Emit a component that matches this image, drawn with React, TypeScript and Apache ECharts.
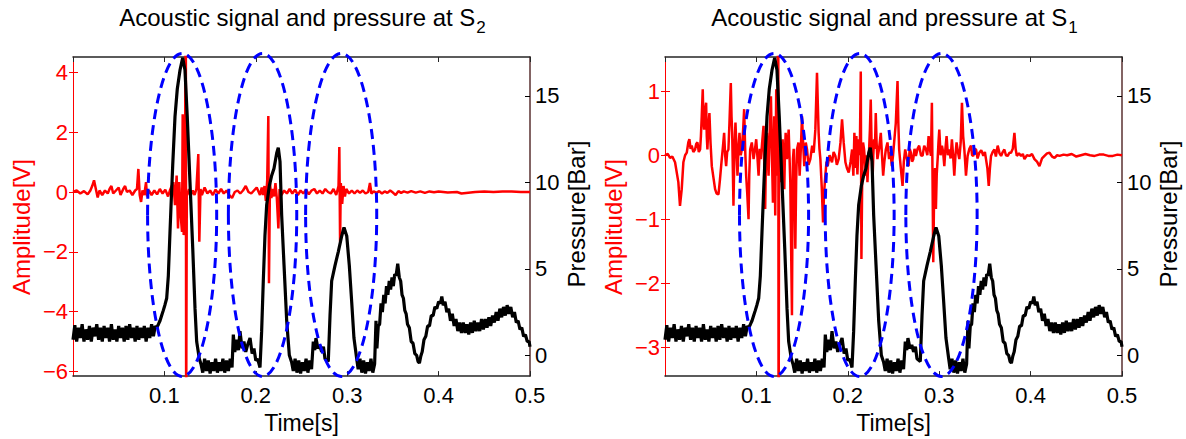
import React, { useEffect, useRef } from 'react';
import * as echarts from 'echarts';

// ---------- data ----------
const timeRange = [0, 0.5];
const timeStep = 0.1;
const pressureRange = [-1.2, 17.25];
const pressureTicks = [0, 5, 10, 15];
const ampRangeS2 = [-6.15, 4.51];
const ampTicksS2 = [-6, -4, -2, 0, 2, 4];
const ampRangeS1 = [-3.45, 1.535];
const ampTicksS1 = [-3, -2, -1, 0, 1];

// pressure [s, bar] (same trace shown in both panels)
const pressure: [number, number][] = [
  [0, 0.9], [0.002, 1.75], [0.004, 0.8], [0.006, 1.6], [0.008, 1.0], [0.01, 1.8], [0.012, 0.8], [0.014, 1.5], [0.016, 0.9], [0.018, 1.7],
  [0.02, 0.8], [0.022, 1.6], [0.024, 1.1], [0.026, 1.8], [0.028, 0.9], [0.03, 1.6], [0.032, 0.8], [0.034, 1.7], [0.036, 1.0], [0.038, 1.6],
  [0.04, 0.8], [0.042, 1.8], [0.044, 0.9], [0.046, 1.5], [0.048, 0.8], [0.05, 1.7], [0.052, 1.0], [0.054, 1.6], [0.056, 0.8], [0.058, 1.7],
  [0.06, 0.9], [0.062, 1.8], [0.064, 1.0], [0.066, 1.6], [0.068, 0.8], [0.07, 1.7], [0.072, 0.9], [0.074, 1.6], [0.076, 1.0], [0.078, 1.7],
  [0.08, 0.8], [0.082, 1.6], [0.084, 1.0], [0.086, 1.8], [0.088, 1.1], [0.09, 1.7],
  [0.0916, 1.6], [0.0935, 1.8], [0.0952, 2.0], [0.097, 2.3], [0.0988, 2.6], [0.1005, 2.9], [0.1025, 3.3], [0.1043, 4.6], [0.1061, 7.1],
  [0.1076, 9.1], [0.1091, 11.0], [0.1116, 13.8], [0.1141, 15.4], [0.1171, 16.5], [0.12, 17.2], [0.1225, 16.5], [0.125, 13.8], [0.128, 10.0],
  [0.131, 6.2], [0.1335, 2.7], [0.1353, 0.8], [0.1382, -0.2],
  [0.14, -0.5], [0.142, -1.0], [0.144, -0.2], [0.146, -0.9], [0.148, -0.3], [0.15, -1.05], [0.152, -0.4], [0.154, -0.9], [0.156, -0.2],
  [0.158, -1.0], [0.16, -0.4], [0.162, -0.9], [0.164, -0.2], [0.166, -1.0], [0.168, -0.3], [0.17, -0.9], [0.172, -0.2], [0.174, -0.7],
  [0.1754, 1.2], [0.177, 0.2], [0.179, 0.9], [0.181, 0.3], [0.1827, 1.4], [0.185, 0.4], [0.187, 0.8], [0.189, 0.2], [0.191, 0.6],
  [0.1937, 1.0], [0.196, 0.1], [0.198, 0.4], [0.2, -0.3], [0.202, -0.2], [0.2046, -0.7],
  [0.2064, 1.4], [0.2082, 4.3], [0.21, 6.9], [0.2119, 8.7], [0.2148, 9.8], [0.2174, 10.4], [0.2199, 10.8], [0.2229, 11.7], [0.2246, 12.0],
  [0.2265, 11.2], [0.2283, 8.1], [0.2309, 5.2], [0.2338, 2.0], [0.2367, 0.0], [0.2392, -0.4],
  [0.241, -0.9], [0.243, -0.2], [0.245, -1.0], [0.247, -0.3], [0.249, -1.05], [0.251, -0.4], [0.253, -0.9], [0.255, -0.2], [0.257, -1.0],
  [0.259, -0.3], [0.261, -0.8],
  [0.2629, 0.8], [0.2645, 0.3], [0.2658, 1.0], [0.268, 0.4], [0.27, 0.6], [0.272, 0.2], [0.274, 0.5], [0.2757, -0.2], [0.2793, -0.35],
  [0.2812, 2.3], [0.283, 4.3], [0.2867, 5.2], [0.2903, 6.0], [0.294, 6.9], [0.2965, 7.4], [0.2995, 6.9], [0.3023, 5.2], [0.3049, 3.1],
  [0.3074, 1.0], [0.3104, -0.2],
  [0.312, -0.8], [0.314, -0.2], [0.316, -1.0], [0.318, -0.3], [0.32, -1.05], [0.322, -0.4], [0.324, -0.9], [0.326, -0.2], [0.328, -1.0], [0.33, -0.5],
  [0.3315, 2.0], [0.3325, 0.4], [0.334, 1.7], [0.3355, 1.8], [0.337, 3.0], [0.3385, 2.5], [0.34, 3.5], [0.3415, 3.0], [0.343, 4.0],
  [0.3445, 3.5], [0.346, 4.3], [0.3475, 3.8], [0.349, 4.5], [0.3505, 4.0], [0.352, 4.7], [0.3535, 4.6], [0.3553, 5.3], [0.357, 4.5],
  [0.3585, 4.3], [0.36, 3.5], [0.3615, 3.3], [0.363, 2.6], [0.3645, 2.4], [0.366, 1.8], [0.368, 1.6], [0.37, 0.8], [0.372, 0.7],
  [0.374, 0.1], [0.376, 0.0], [0.3775, -0.35], [0.379, -0.45], [0.3805, -0.05], [0.382, 0.2], [0.384, 0.9], [0.386, 1.1], [0.388, 1.7],
  [0.39, 1.7], [0.392, 2.3], [0.394, 2.3], [0.396, 2.8], [0.398, 2.7], [0.4, 3.1], [0.402, 3.0], [0.4035, 3.4], [0.405, 2.9], [0.407, 3.1],
  [0.409, 2.5], [0.411, 2.7], [0.413, 2.0], [0.415, 2.4], [0.417, 1.7], [0.419, 2.1], [0.421, 1.4], [0.423, 1.9], [0.425, 1.3],
  [0.427, 1.9], [0.429, 1.3], [0.431, 1.8], [0.433, 1.2], [0.435, 1.9], [0.437, 1.3], [0.439, 2.0], [0.441, 1.4], [0.443, 1.9],
  [0.445, 1.4], [0.447, 2.1], [0.449, 1.5], [0.451, 2.1], [0.453, 1.6], [0.455, 2.2], [0.457, 1.7], [0.459, 2.3], [0.461, 1.9],
  [0.463, 2.5], [0.465, 2.0], [0.467, 2.7], [0.469, 2.2], [0.471, 2.8], [0.473, 2.3], [0.475, 2.9], [0.477, 2.4], [0.479, 2.8],
  [0.481, 2.2], [0.483, 2.5], [0.485, 1.9], [0.487, 2.0], [0.489, 1.5], [0.491, 1.6], [0.493, 1.1], [0.495, 1.2], [0.497, 0.8],
  [0.499, 0.8], [0.5, 0.5],
];

// acoustic signal at S2 [s, V]
const signalS2: [number, number][] = [
  [0, 0], [0.004, 0.05], [0.008, -0.05], [0.012, 0.03], [0.016, -0.08], [0.019, 0.05], [0.021, 0.2], [0.023, 0.39], [0.025, 0.1],
  [0.027, -0.18], [0.029, 0.05], [0.032, -0.1], [0.035, 0.05], [0.038, -0.05], [0.04, 0.1], [0.042, 0.2], [0.044, -0.05], [0.047, 0.05],
  [0.05, 0.15], [0.052, -0.1], [0.055, 0.1], [0.057, 0.2], [0.059, 0], [0.062, 0.05], [0.065, -0.1], [0.068, 0.05], [0.07, 0.1],
  [0.0715, 0.77], [0.073, -0.1], [0.0745, -0.33], [0.076, 0.05], [0.078, -0.1], [0.0799, 0.33], [0.081, -0.15], [0.083, 0.05],
  [0.086, -0.1], [0.089, 0.05], [0.092, -0.08], [0.095, 0.1], [0.098, -0.05], [0.101, 0.08], [0.104, -0.15], [0.106, 0.05], [0.108, 0.2],
  [0.1098, 0.33], [0.1116, -0.44], [0.1134, 0.55], [0.1149, -1.22], [0.1163, 0.33], [0.1178, -0.78], [0.1193, -1.33], [0.12, 2.6],
  [0.1211, -1.44], [0.1225, 0.11], [0.1234, 8], [0.1238, -8], [0.1245, 0], [0.1251, -0.1], [0.127, 0.1], [0.129, -0.1], [0.131, 0.05],
  [0.133, -0.1], [0.135, 0.1], [0.1371, 1.27], [0.1382, -1.66], [0.1395, 0.1], [0.141, -0.1], [0.144, 0.15], [0.147, -0.05], [0.15, 0.05],
  [0.153, -0.1], [0.156, 0.08], [0.159, -0.05], [0.162, 0.1], [0.165, -0.05], [0.168, 0.05], [0.171, -0.1], [0.174, -0.2], [0.177, 0],
  [0.18, 0.05], [0.183, -0.05], [0.186, 0.05], [0.189, 0.2], [0.192, 0], [0.195, -0.05], [0.198, 0.05], [0.201, 0.15],
  [0.2046, -0.1], [0.2065, 0.15], [0.208, -0.1], [0.2095, 0.2], [0.211, -0.3], [0.2125, 0.4], [0.2137, 2.54], [0.2144, -3.05],
  [0.2155, 0.3], [0.217, -0.2], [0.2185, 0.1], [0.22, -0.15], [0.2215, 0.3], [0.223, -0.2], [0.2247, -1.22], [0.226, 0.1], [0.228, -0.1],
  [0.231, 0.05], [0.234, -0.05], [0.237, 0.1], [0.24, -0.05], [0.243, 0.08], [0.246, -0.1], [0.249, 0.05], [0.252, -0.05], [0.255, 0.08],
  [0.258, -0.08], [0.261, 0.05], [0.264, 0.1], [0.267, -0.05], [0.27, 0.05], [0.273, -0.05], [0.276, 0.1], [0.279, 0], [0.282, -0.05],
  [0.285, 0.1], [0.288, -0.1], [0.2905, 0.2], [0.2914, 1.5], [0.2922, -1.66], [0.293, 0.3], [0.2945, -0.4], [0.296, 0.2], [0.2975, -0.15],
  [0.299, 0.1], [0.302, -0.05], [0.305, 0.05], [0.308, -0.05], [0.311, 0.05], [0.314, -0.03], [0.317, 0.05], [0.32, -0.05], [0.323, 0],
  [0.3249, 0.3], [0.3265, -0.05], [0.329, 0.02], [0.332, -0.03], [0.335, 0.03], [0.338, -0.05], [0.341, 0.02], [0.344, -0.03],
  [0.347, 0.05], [0.35, -0.02], [0.353, -0.1], [0.356, 0.03], [0.359, -0.03], [0.362, 0.02], [0.366, -0.02], [0.37, 0.03], [0.375, -0.02],
  [0.38, 0.02], [0.385, -0.03], [0.39, 0.02], [0.395, -0.01], [0.4, 0.02], [0.41, -0.02], [0.42, 0], [0.425, -0.05], [0.43, -0.03],
  [0.44, 0], [0.45, 0.02], [0.46, 0], [0.47, 0.02], [0.48, 0.02], [0.49, 0], [0.5, 0],
];

// acoustic signal at S1 [s, V]
const signalS1: [number, number][] = [
  [0, 0], [0.003, 0.02], [0.0055, -0.04], [0.008, -0.02], [0.011, -0.11], [0.0146, -0.42], [0.0164, -0.79], [0.0183, -0.53],
  [0.0201, -0.11], [0.022, 0.0], [0.0238, 0.04], [0.0255, 0.2], [0.0267, 0.25], [0.028, 0.1], [0.0292, 0.15], [0.031, 0.05],
  [0.0329, 0.09], [0.0342, 0.18], [0.0355, 0.2], [0.037, 0.05], [0.0384, 0.09], [0.0393, 0.3], [0.0402, 0.61], [0.0413, 1.03],
  [0.042, 0.55], [0.0428, 0.4], [0.0438, 0.7], [0.045, 0.82], [0.0457, 0.3], [0.0464, 0.09], [0.0475, 0.45], [0.0486, 0.66],
  [0.0498, 0.2], [0.0512, -0.17], [0.053, -0.35], [0.0548, -0.53], [0.0565, -0.6], [0.0585, -0.61], [0.06, -0.4], [0.0621, -0.06],
  [0.0635, 0.15], [0.0647, 0.35], [0.0658, 0.0], [0.0669, -0.17], [0.068, 0.05], [0.0694, 0.09], [0.0705, 0.5], [0.072, 1.13],
  [0.0728, 0.6], [0.0735, 0.35], [0.0742, -0.2], [0.0749, -0.79], [0.076, 0.1], [0.0771, 0.51], [0.0782, 0.1], [0.0793, -0.32],
  [0.0804, 0.1], [0.0815, 0.35], [0.0828, 0.0], [0.0841, 0.09], [0.0855, 0.4], [0.0866, 0.72], [0.0877, 0.1], [0.0888, -0.32],
  [0.09, -0.6], [0.0914, -1.0], [0.0922, -0.3], [0.0932, 0.09], [0.095, 0.2], [0.0969, -0.06], [0.0985, 0.1], [0.0998, 0.25],
  [0.101, 0.0], [0.1024, -0.32], [0.1036, 0.1], [0.1049, -0.06], [0.1063, 0.2], [0.1078, 0.46], [0.1087, -0.2], [0.1096, -0.84],
  [0.1105, 0.0], [0.1115, 0.35], [0.1124, 0.0], [0.1133, -0.32], [0.1146, 0.4], [0.1159, 0.92], [0.117, 0.0], [0.1181, -0.74],
  [0.1188, 0.0], [0.1195, 0.61], [0.12, 0.0], [0.1206, -0.94], [0.1212, 0.2], [0.1217, 1.03], [0.1222, 0.3], [0.1228, -0.32],
  [0.1239, 3], [0.1243, -5], [0.1248, -0.2], [0.1254, 0.09], [0.1261, 0.2], [0.1268, -0.42], [0.1278, 0.0], [0.1287, 0.25],
  [0.1296, -0.1], [0.1305, -0.53], [0.1312, 0.0], [0.132, 0.35], [0.1327, 0.1], [0.1334, -0.06], [0.1344, 0.2], [0.1353, 0.4],
  [0.1362, 0.0], [0.1371, -0.42], [0.1389, -2.5], [0.1395, -0.8], [0.14, -0.06], [0.1408, 0.1], [0.1415, -0.32], [0.1426, -1.46],
  [0.1435, -0.4], [0.1444, 0.09], [0.146, 0.2], [0.1473, -0.32], [0.1486, 0.1], [0.1499, 0.61], [0.1511, 0.2], [0.1524, -0.17],
  [0.154, 0.2], [0.1554, 0.09], [0.157, -0.15], [0.159, -0.06], [0.161, 0.15], [0.1627, 0.04], [0.1645, 0.4], [0.1663, 1.29],
  [0.1672, 0.8], [0.1681, 0.35], [0.169, 0.1], [0.17, -0.06], [0.1715, -0.5], [0.1729, -1.05], [0.174, -0.6], [0.1754, -0.32],
  [0.1767, -0.1], [0.178, -0.17], [0.18, 0.0], [0.1827, -0.11], [0.1845, 0.05], [0.1864, -0.01], [0.188, -0.15], [0.19, -0.06],
  [0.192, 0.2], [0.1937, 0.56], [0.1955, 0.2], [0.1974, -0.11], [0.199, -0.2], [0.201, -0.27], [0.203, -0.1], [0.2047, 0.09],
  [0.2061, -0.32], [0.2072, 0.35], [0.2083, -0.2], [0.2094, 0.3], [0.2105, -0.3], [0.212, 0.25], [0.2131, 0.0], [0.2142, 1.31],
  [0.2149, -1.62], [0.2158, -0.3], [0.2167, 0.2], [0.2178, 0.09], [0.2188, -0.1], [0.2197, -0.32], [0.2206, 0.0], [0.2215, -0.42],
  [0.2224, -0.1], [0.2233, 0.09], [0.2242, 0.4], [0.2251, 0.87], [0.226, 0.2], [0.227, -0.42], [0.2279, 0.0], [0.2288, 0.25],
  [0.2297, 0.1], [0.2306, 0.66], [0.2315, 0.2], [0.2324, -0.06], [0.2342, 0.1], [0.2361, 0.35], [0.2374, 0.0], [0.2387, -0.32],
  [0.24, -0.1], [0.2416, 0.09], [0.2434, 0.2], [0.2452, -0.06], [0.2467, 0.05], [0.2482, -0.17], [0.2495, 0.0], [0.2507, 0.2],
  [0.2525, 0.5], [0.2544, 1.16], [0.2553, 0.5], [0.2562, 0.09], [0.258, -0.2], [0.2599, -0.48], [0.2613, -0.1], [0.2628, 0.09],
  [0.2646, -0.05], [0.2665, -0.17], [0.2677, 0.1], [0.269, 0.04], [0.2703, -0.1], [0.2716, -0.06], [0.273, 0.1], [0.2745, -0.01],
  [0.2763, 0.1], [0.2781, 0.15], [0.28, 0.0], [0.2818, -0.01], [0.2836, 0.15], [0.2855, 0.09], [0.287, 0.0], [0.2884, 0.3],
  [0.2897, 0.1], [0.291, -0.01], [0.292, 0.82], [0.2935, -1.67], [0.2946, -0.42], [0.2955, -0.2], [0.2964, -0.84], [0.2973, -0.3],
  [0.2983, -0.06], [0.2992, 0.2], [0.3001, 0.4], [0.3015, 0.0], [0.303, 0.15], [0.3043, 0.05], [0.3056, -0.17], [0.3068, 0.1],
  [0.3081, 0.3], [0.3095, 0.0], [0.311, 0.09], [0.3125, -0.05], [0.3139, 0.25], [0.3152, 0.0], [0.3165, -0.32], [0.3178, 0.0],
  [0.319, 0.2], [0.3205, 0.05], [0.322, -0.06], [0.3235, 0.2], [0.3249, 0.82], [0.3262, 0.3], [0.3275, 0.09], [0.3284, -0.1],
  [0.3293, -0.32], [0.3311, -0.01], [0.333, 0.1], [0.3348, 0.15], [0.336, 0.0], [0.3373, -0.01], [0.339, 0.1], [0.3403, 0.09],
  [0.342, -0.05], [0.3439, 0.04], [0.346, 0.08], [0.3483, -0.01], [0.35, 0.05], [0.3512, -0.06], [0.3527, -0.2], [0.3542, -0.48],
  [0.3555, -0.2], [0.3567, -0.01], [0.3585, 0.05], [0.3604, 0.09], [0.362, -0.02], [0.364, 0.15], [0.366, 0.03], [0.3677, -0.01],
  [0.3695, 0.05], [0.3713, 0.09], [0.373, 0.0], [0.375, -0.01], [0.3768, 0.04], [0.3786, 0.04], [0.3805, 0.1], [0.3823, 0.35],
  [0.3836, 0.1], [0.3849, -0.01], [0.3872, 0.03], [0.3896, -0.01], [0.3915, 0.02], [0.3933, -0.06], [0.396, 0.0], [0.3988, -0.01],
  [0.4015, 0.02], [0.4042, -0.06], [0.407, -0.1], [0.4097, -0.17], [0.4125, -0.05], [0.4152, -0.01], [0.418, 0.03], [0.4207, 0.04],
  [0.4235, -0.02], [0.4262, -0.04], [0.429, 0.0], [0.4317, -0.01], [0.436, 0.01], [0.44, 0], [0.445, 0.02], [0.45, -0.02],
  [0.455, 0.0], [0.46, 0.02], [0.465, 0.0], [0.47, -0.01], [0.475, 0.01], [0.48, 0.01], [0.485, -0.01], [0.49, -0.01], [0.495, 0.01],
  [0.5, 0],
];

// dashed ellipses: centre time, half width [s]; vertical centre / half height [bar]
const ellipseCentersS2 = [0.1194, 0.2074, 0.2934];
const ellipseHalfWidthsS2 = [0.0378, 0.0374, 0.0389];
const ellipseCentersS1 = [0.1193, 0.213, 0.3025];
const ellipseHalfWidthsS1 = [0.0378, 0.0377, 0.039];
const ellipseMidPressure = 8.12;
const ellipseHalfHeightPressure = 9.34;

const titlePrefix = 'Acoustic signal and pressure at S';
const sensors = ['2', '1'];

// ---------- styling ----------
const FONT = "'Liberation Sans', Arial, Helvetica, sans-serif";
const RED = '#ff0000';
const BLUE = '#0000ff';
const FRAME = '#262626';
const fmtMinus = (v: number) => String(v).replace('-', '\u2212');

function buildPanel(i: number, left: number, signal: [number, number][], ampRange: number[], ampTicks: number[],
  centers: number[], halfWidths: number[], sensor: string) {
  const grid = { left, top: 57, width: 457, height: 321 };
  const xAxes = [
    {
      gridIndex: i, type: 'value', position: 'bottom', min: timeRange[0], max: timeRange[1], interval: timeStep,
      axisLine: { show: true, onZero: false, lineStyle: { color: FRAME, width: 1.5 } },
      axisTick: { show: true, inside: true, length: 5, lineStyle: { color: FRAME } },
      axisLabel: { margin: 8, fontSize: 22, color: '#000', fontFamily: FONT, showMinLabel: false, showMaxLabel: true,
        formatter: (v: number) => (v === 0 ? '' : v.toFixed(1)) },
      splitLine: { show: false },
      name: 'Time[s]', nameLocation: 'middle', nameGap: 29,
      nameTextStyle: { fontSize: 23, color: '#000', fontFamily: FONT },
    },
    {
      gridIndex: i, type: 'value', position: 'top', min: timeRange[0], max: timeRange[1], interval: timeStep,
      axisLine: { show: true, onZero: false, lineStyle: { color: FRAME, width: 1.5 } },
      axisTick: { show: true, inside: true, length: 5, lineStyle: { color: FRAME } },
      axisLabel: { show: false }, splitLine: { show: false },
    },
  ];
  const yAxes = [
    {
      gridIndex: i, type: 'value', position: 'left', min: ampRange[0], max: ampRange[1],
      axisLine: { show: true, onZero: false, lineStyle: { color: RED, width: 1 } },
      axisTick: { show: true, inside: true, length: 5, customValues: ampTicks, lineStyle: { color: RED } },
      axisLabel: { show: true, margin: 5, fontSize: 22, color: RED, fontFamily: FONT, customValues: ampTicks, formatter: fmtMinus },
      splitLine: { show: false },
      name: 'Amplitude[V]', nameLocation: 'middle', nameGap: 40, nameRotate: 90,
      nameTextStyle: { fontSize: 24, color: RED, fontFamily: FONT, padding: [0, 21, 0, 0] },
    },
    {
      gridIndex: i, type: 'value', position: 'right', min: pressureRange[0], max: pressureRange[1],
      axisLine: { show: true, onZero: false, lineStyle: { color: '#5a3030', width: 1.5 } },
      axisTick: { show: true, inside: true, length: 5, customValues: pressureTicks, lineStyle: { color: '#000' } },
      axisLabel: { show: true, margin: 5, fontSize: 22, color: '#000', fontFamily: FONT, customValues: pressureTicks },
      splitLine: { show: false },
      name: 'Pressure[Bar]', nameLocation: 'middle', nameGap: 34, nameRotate: 90,
      nameTextStyle: { fontSize: 24, color: '#000', fontFamily: FONT, padding: [0, 0, 0, 5] },
    },
    {
      gridIndex: i, type: 'value', position: 'right', min: ampRange[0], max: ampRange[1],
      axisLine: { show: false },
      axisTick: { show: true, inside: true, length: 4, customValues: ampTicks, lineStyle: { color: RED } },
      axisLabel: { show: false }, splitLine: { show: false },
    },
  ];
  const xb = i * 2;
  const yb = i * 3;
  const ellipseData = centers.map((c, k) => [c, ellipseMidPressure, halfWidths[k], ellipseHalfHeightPressure]);
  const series = [
    {
      type: 'line', xAxisIndex: xb, yAxisIndex: yb, data: signal, showSymbol: false, symbol: 'none',
      lineStyle: { color: RED, width: 2.5 }, z: 2, clip: true,
    },
    {
      type: 'line', xAxisIndex: xb, yAxisIndex: yb + 1, data: pressure, showSymbol: false, symbol: 'none',
      lineStyle: { color: '#000', width: 3.2 }, z: 3, clip: true,
    },
    {
      type: 'custom', xAxisIndex: xb, yAxisIndex: yb + 1, data: ellipseData, z: 4, silent: true,
      renderItem: (params: any, api: any) => {
        const c = api.coord([api.value(0), api.value(1)]);
        const s = api.size([api.value(2), api.value(3)]);
        return {
          type: 'ellipse',
          shape: { cx: c[0], cy: c[1], rx: s[0], ry: s[1] },
          style: { fill: 'none', stroke: BLUE, lineWidth: 3, lineDash: [10, 6] },
        };
      },
    },
  ];
  const title = {
    text: `{m|${titlePrefix}}{s|${sensor}}`,
    left: left + 229.5, top: 5, padding: 0, textAlign: 'center',
    textStyle: {
      fontWeight: 'normal',
      rich: {
        m: { fontSize: 24, fontFamily: FONT, fontWeight: 'normal', color: '#000', lineHeight: 24 },
        s: { fontSize: 17, fontFamily: FONT, fontWeight: 'normal', color: '#000', lineHeight: 20, padding: [20, 0, 0, 1] },
      },
    },
  };
  return { grid, xAxes, yAxes, series, title };
}

export default function App() {
  const ref = useRef<HTMLDivElement>(null);
  useEffect(() => {
    if (!ref.current) return;
    const chart = echarts.init(ref.current, null, { renderer: 'svg' });
    const p0 = buildPanel(0, 73, signalS2, ampRangeS2, ampTicksS2, ellipseCentersS2, ellipseHalfWidthsS2, sensors[0]);
    const p1 = buildPanel(1, 665, signalS1, ampRangeS1, ampTicksS1, ellipseCentersS1, ellipseHalfWidthsS1, sensors[1]);
    chart.setOption({
      animation: false,
      backgroundColor: '#ffffff',
      title: [p0.title, p1.title],
      grid: [p0.grid, p1.grid],
      xAxis: [...p0.xAxes, ...p1.xAxes],
      yAxis: [...p0.yAxes, ...p1.yAxes],
      series: [...p0.series, ...p1.series],
    });
    return () => chart.dispose();
  }, []);
  return <div ref={ref} style={{ position: 'fixed', left: 0, top: 0, width: 1186, height: 439 }} />;
}
